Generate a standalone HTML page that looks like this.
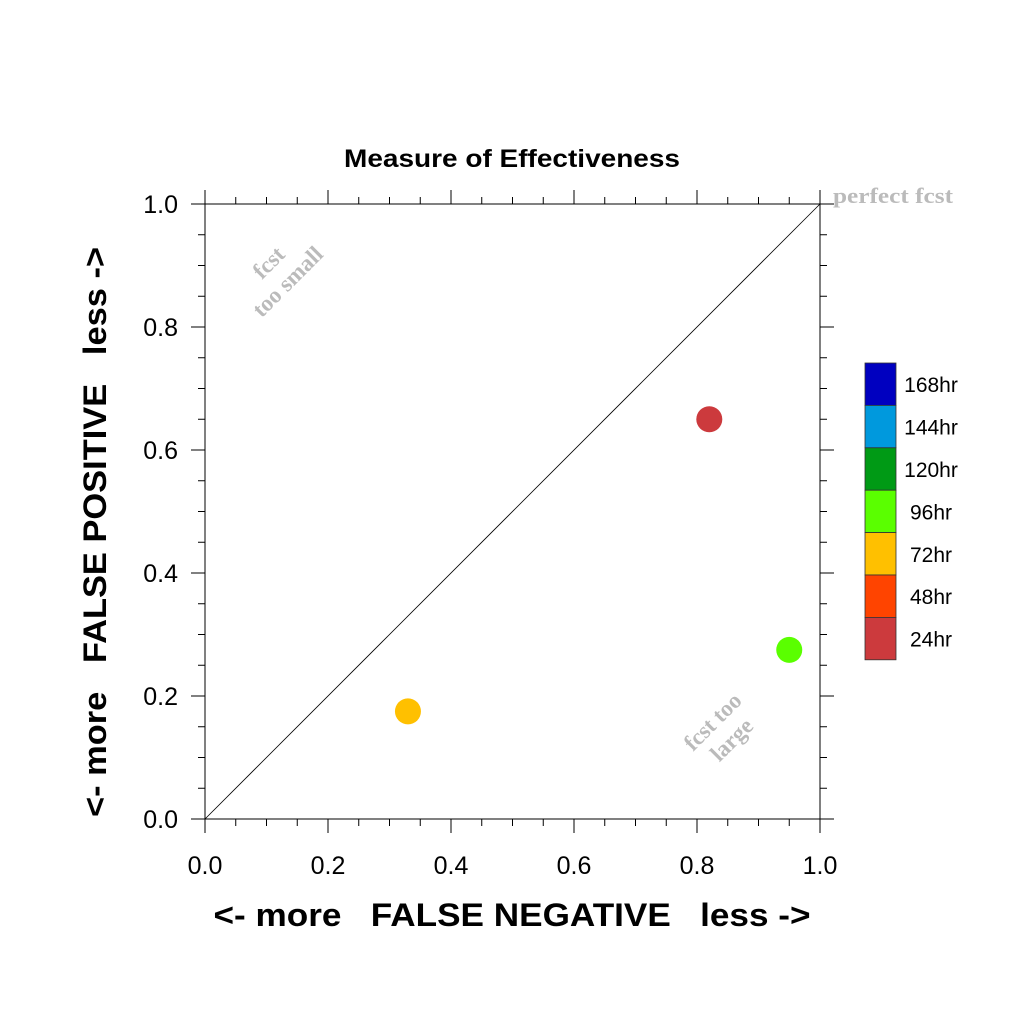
<!DOCTYPE html>
<html><head><meta charset="utf-8"><style>body{margin:0;background:#fff}</style></head>
<body>
<svg id="chart" width="1024" height="1024" xmlns="http://www.w3.org/2000/svg" font-family="Liberation Sans, sans-serif">
<rect width="1024" height="1024" fill="#fff"/>
<text x="512" y="167" text-anchor="middle" font-size="25" font-weight="bold" textLength="336" lengthAdjust="spacingAndGlyphs">Measure of Effectiveness</text>
<g id="axes"></g>
<line x1="205" y1="819" x2="820" y2="204" stroke="#000" stroke-width="0.8"/>
<text x="833" y="203" font-family="Liberation Serif, serif" font-weight="bold" font-size="22" fill="#bbb" textLength="120" lengthAdjust="spacingAndGlyphs">perfect fcst</text>
<g font-family="Liberation Serif, serif" font-weight="bold" font-size="23" fill="#bbb" text-anchor="middle">
<text transform="translate(274,268) rotate(-45)">fcst</text>
<text transform="translate(293,287) rotate(-45)">too small</text>
<text transform="translate(718,727) rotate(-45)">fcst too</text>
<text transform="translate(737,745) rotate(-45)">large</text>
</g>
<text x="512" y="926" text-anchor="middle" font-size="32" font-weight="bold" xml:space="preserve" textLength="597" lengthAdjust="spacingAndGlyphs">&lt;- more   FALSE NEGATIVE   less -&gt;</text>
<text transform="translate(106,532) rotate(-90)" text-anchor="middle" font-size="32" font-weight="bold" xml:space="preserve" textLength="570" lengthAdjust="spacingAndGlyphs">&lt;- more   FALSE POSITIVE   less -&gt;</text>
<g id="points"></g>
<g id="legend"></g>
</svg>
<script>
const xVals=[0.82,0.95,0.33];
const yVals=[0.65,0.275,0.175];
const pointColors=["#cc3a3d","#5aff00","#ffc000"];
const tickLabels=["0.0","0.2","0.4","0.6","0.8","1.0"];
const legendLabels=["168hr","144hr","120hr","96hr","72hr","48hr","24hr"];
const legendColors=["#0000c0","#0099dd","#009a15","#5aff00","#ffc000","#ff4400","#cc3a3d"];
const NS="http://www.w3.org/2000/svg";
const X0=205,X1=820,Y0=819,Y1=204;
const sx=v=>X0+v*(X1-X0), sy=v=>Y0-v*(Y0-Y1);
function mk(p,t,a){const e=document.createElementNS(NS,t);for(const k in a)e.setAttribute(k,a[k]);p.appendChild(e);return e;}
const ax=document.getElementById('axes');
const frame=mk(ax,'rect',{x:X0,y:Y1,width:X1-X0,height:Y0-Y1,fill:'none',stroke:'#000','stroke-width':1});


for(let i=0;i<=20;i++){
  const v=i/20,len=(i%4===0)?14:7;
  const x=sx(v),y=sy(v);
  const t1=mk(ax,'line',{x1:x,y1:Y0,x2:x,y2:Y0+len,stroke:'#000'});
  
  const t2=mk(ax,'line',{x1:x,y1:Y1,x2:x,y2:Y1-len,stroke:'#000'});
  
  const t3=mk(ax,'line',{x1:X0,y1:y,x2:X0-len,y2:y,stroke:'#000'});
  
  const t4=mk(ax,'line',{x1:X1,y1:y,x2:X1+len,y2:y,stroke:'#000'});
  
}
tickLabels.forEach((l,i)=>{
  const v=i/5;
  const a=mk(ax,'text',{x:sx(v),y:874,'text-anchor':'middle','font-size':25});a.textContent=l;
  
  const b=mk(ax,'text',{x:178,y:sy(v)+9,'text-anchor':'end','font-size':25});b.textContent=l;
  
});
const pg=document.getElementById('points');
xVals.forEach((xv,i)=>{
  const c=mk(pg,'circle',{cx:sx(xv),cy:sy(yVals[i]),r:13,fill:pointColors[i]});
  
  
});
const lg=document.getElementById('legend');
const bh=42.4;
legendLabels.forEach((l,i)=>{
  const y=363+i*bh;
  const r=mk(lg,'rect',{x:865,y:y,width:31,height:bh,fill:legendColors[i],stroke:'#333','stroke-width':0.8});
  
  const t=mk(lg,'text',{x:931,y:y+bh/2+8,'text-anchor':'middle','font-size':21});t.textContent=l;
  
});
</script>
</body></html>
